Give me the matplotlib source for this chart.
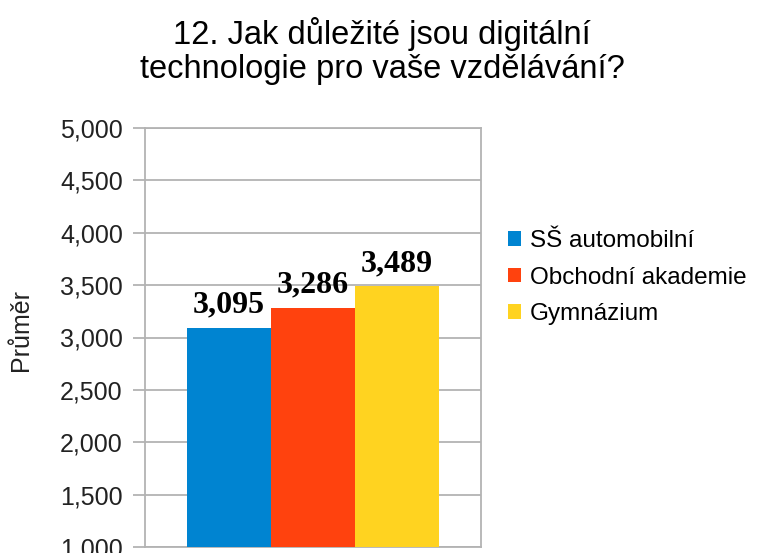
import matplotlib
matplotlib.use('Agg')
import matplotlib.pyplot as plt
from matplotlib.patches import Patch
from matplotlib.ticker import FuncFormatter

plt.rcParams['font.family'] = ['Liberation Sans', 'DejaVu Sans']

title = '12. Jak důležité jsou digitální\ntechnologie pro vaše vzdělávání?'
series = ['SŠ automobilní', 'Obchodní akademie', 'Gymnázium']
values = [3.095, 3.286, 3.489]
colors = ['#0084d1', '#ff420e', '#ffd320']
yticks = [1.0, 1.5, 2.0, 2.5, 3.0, 3.5, 4.0, 4.5, 5.0]


def czfmt(v, pos=None):
    return '{:.3f}'.format(v).replace('.', ',')


fig = plt.figure(figsize=(7.62, 5.53), dpi=100)
ax = fig.add_axes([145 / 762, 6 / 553, 336 / 762, 419 / 553])

w = 0.25
offsets = [-0.25, 0.0, 0.25]
for off, v, c in zip(offsets, values, colors):
    ax.bar(off, v - 1.0, bottom=1.0, width=w, color=c, zorder=3)
    ax.text(off, v + 0.14, czfmt(v), ha='center', va='baseline',
            fontsize=23, fontweight='bold', family='Liberation Serif', zorder=4)

ax.set_xlim(-0.5, 0.5)
ax.set_ylim(1.0, 5.0)
ax.set_yticks(yticks)
ax.yaxis.set_major_formatter(FuncFormatter(czfmt))
ax.set_xticks([])
ax.tick_params(axis='y', length=9, width=1.3, color='#b3b3b3', labelsize=18, pad=7,
               labelcolor='#222222')
ax.grid(axis='y', color='#b3b3b3', linewidth=1.3, zorder=0)
for s in ax.spines.values():
    s.set_color('#b3b3b3')
    s.set_linewidth(1.3)

ax.set_ylabel('Průměr', fontsize=18, color='#222222')
ax.yaxis.set_label_coords(-0.333, 0.518)

fig.text(382 / 762, 1 - 17 / 553, title, ha='center', va='top', fontsize=23.5,
         linespacing=1.12)

handles = [Patch(facecolor=c, edgecolor='none') for c in colors]
fig.legend(handles, series, loc='center left', bbox_to_anchor=(498 / 762, 0.498),
           frameon=False, fontsize=17.5, handlelength=0.55, handleheight=0.55,
           handletextpad=0.35, labelspacing=0.6, borderaxespad=0)

fig.savefig('out.png', dpi=100)
